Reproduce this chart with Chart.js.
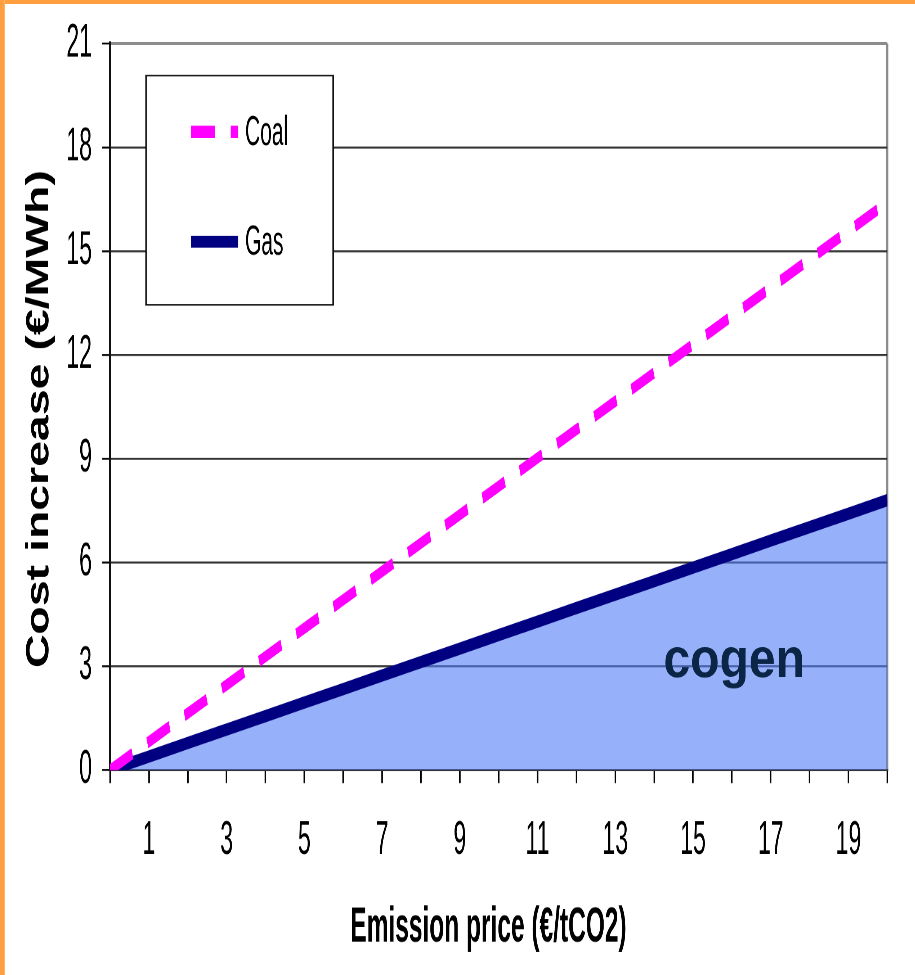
<!DOCTYPE html>
<html>
<head>
<meta charset="utf-8">
<script src="https://cdn.jsdelivr.net/npm/chart.js@4.4.1/dist/chart.umd.min.js"></script>
<style>
  html, body { margin: 0; padding: 0; background: #ffffff; }
  body { width: 915px; height: 975px; position: relative; overflow: hidden; }
  #wrap { position: absolute; left: 0; top: 0; width: 1270.83px; height: 672px;
          transform: scale(0.72, 1.4509); transform-origin: 0 0; }
  #topbar { position: absolute; left: 0; top: 0; width: 915px; height: 4px; background: #FF9F3F; }
  #leftbar { position: absolute; left: 0; top: 0; width: 5px; height: 975px;
             background: linear-gradient(to right, #FF9F3F 0, #FF9F3F 4px, #FFC98F 5px); }
</style>
</head>
<body>
<div id="wrap"><canvas id="c"></canvas></div>
<div id="topbar"></div>
<div id="leftbar"></div>
<script>
// ---- data ----
const emissionPrice = [0, 1, 2, 3, 4, 5, 6, 7, 8, 9, 10, 11, 12, 13, 14, 15, 16, 17, 18, 19, 20];
const coalCost = [0, 0.82, 1.64, 2.46, 3.28, 4.10, 4.92, 5.74, 6.56, 7.38, 8.20, 9.02, 9.84, 10.66, 11.48, 12.30, 13.12, 13.94, 14.76, 15.58, 16.40];
const gasCost  = [0, 0.39, 0.78, 1.17, 1.56, 1.95, 2.34, 2.73, 3.12, 3.51, 3.90, 4.29, 4.68, 5.07, 5.46, 5.85, 6.24, 6.63, 7.02, 7.41, 7.80];
const xTickLabels = [1, 3, 5, 7, 9, 11, 13, 15, 17, 19];
const yTickValues = [0, 3, 6, 9, 12, 15, 18, 21];
const seriesNames = ['Coal', 'Gas'];
const xTitle = 'Emission price (€/tCO2)';
const yTitle = 'Cost increase (€/MWh)';
const areaLabel = 'cogen';
const areaLabelPos = { x: 16.06, y: 2.69 };

const ARIAL = "'Liberation Sans', Arial, sans-serif";
const SX = 0.72;      // horizontal squeeze of the page canvas
const SY = 1.4509;    // vertical stretch of the page canvas

const coalPts = emissionPrice.map((x, i) => ({ x: x, y: coalCost[i] }));
const gasPts = emissionPrice.map((x, i) => ({ x: x, y: gasCost[i] }));

// legend box drawn inside the plot, as in the reference
const boxLegend = {
  id: 'boxLegend',
  afterDatasetsDraw(chart) {
    const ctx = chart.ctx;
    const a = chart.chartArea;
    const bx = a.left + 50, by = a.top + 22.1, bw = 259.7, bh = 158;
    ctx.save();
    ctx.fillStyle = '#ffffff';
    ctx.fillRect(bx, by, bw, bh);
    ctx.fillStyle = '#111111';
    ctx.fillRect(bx - 1, by - 0.55, bw + 2, 1.1);
    ctx.fillRect(bx - 1, by + bh - 0.55, bw + 2, 1.1);
    ctx.fillRect(bx - 1, by, 2.1, bh);
    ctx.fillRect(bx + bw - 1, by, 2.1, bh);
    const rows = [by + 38.7, by + 114.5];
    chart.data.datasets.forEach((ds, i) => {
      const y = rows[i];
      ctx.save();
      ctx.strokeStyle = ds.borderColor;
      ctx.lineWidth = 8.3;
      ctx.lineCap = 'butt';
      ctx.setLineDash(ds.borderDash || []);
      ctx.beginPath();
      ctx.moveTo(bx + 62.5, y);
      ctx.lineTo(bx + 127.8, y);
      ctx.stroke();
      ctx.restore();
      ctx.fillStyle = '#000000';
      ctx.font = '29px ' + ARIAL;
      ctx.textAlign = 'left';
      ctx.textBaseline = 'middle';
      ctx.fillText(ds.label, bx + 137.5, y + 1);
    });
    ctx.restore();
  }
};

// area label placed by data coordinates
const areaText = {
  id: 'areaText',
  afterDatasetsDraw(chart) {
    const ctx = chart.ctx;
    const x = chart.scales.x.getPixelForValue(areaLabelPos.x);
    const y = chart.scales.y.getPixelForValue(areaLabelPos.y);
    ctx.save();
    ctx.translate(x, y);
    ctx.scale(1 / SX, 0.8);
    ctx.fillStyle = '#0B2546';
    ctx.font = 'bold 48px ' + ARIAL;
    ctx.textAlign = 'center';
    ctx.textBaseline = 'alphabetic';
    ctx.fillText(areaLabel, 0, 0);
    ctx.restore();
  }
};

// vertical axis title (wide bold face, not squeezed)
const yAxisTitle = {
  id: 'yAxisTitle',
  afterDraw(chart) {
    const ctx = chart.ctx;
    const a = chart.chartArea;
    const cx = 39.5 / SX;
    const cy = (a.top + a.bottom) / 2 + 8.5;
    ctx.save();
    ctx.translate(cx, cy);
    ctx.scale(1 / SX, 1);
    ctx.rotate(-Math.PI / 2);
    ctx.fillStyle = '#000000';
    ctx.font = 'bold 32px ' + ARIAL;
    ctx.textAlign = 'center';
    ctx.textBaseline = 'middle';
    ctx.fillText(yTitle, 0, 0);
    ctx.restore();
  }
};

new Chart(document.getElementById('c'), {
  type: 'line',
  data: {
    datasets: [
      {
        label: seriesNames[0],
        data: coalPts,
        borderColor: '#FF00FF',
        borderWidth: 7.8,
        borderDash: [33, 22],
        borderCapStyle: 'butt',
        pointRadius: 0,
        fill: false,
        tension: 0
      },
      {
        label: seriesNames[1],
        data: gasPts,
        borderColor: '#000080',
        borderWidth: 8.5,
        borderCapStyle: 'butt',
        backgroundColor: 'rgba(82,123,247,0.6)',
        pointRadius: 0,
        fill: 'origin',
        tension: 0
      }
    ]
  },
  options: {
    responsive: true,
    maintainAspectRatio: false,
    devicePixelRatio: 2,
    animation: false,
    layout: { padding: { top: 28.9, right: 38.9, bottom: 0, left: 0 } },
    plugins: {
      legend: { display: false },
      tooltip: { enabled: false }
    },
    scales: {
      x: {
        type: 'linear',
        min: 0,
        max: 20,
        afterFit(scale) { scale.height = 141.3; },
        ticks: {
          stepSize: 1,
          autoSkip: false,
          maxRotation: 0,
          padding: 21,
          color: '#000000',
          font: { family: ARIAL, size: 32 },
          callback: (v) => xTickLabels.includes(v) ? String(v) : ''
        },
        grid: {
          drawOnChartArea: true,
          color: (c) => (c.tick && c.tick.value === 20) ? '#8C8C8C' : 'rgba(0,0,0,0)',
          lineWidth: 2.8,
          tickColor: '#000000',
          tickLength: 9,
          tickWidth: 2.1
        },
        border: { display: true, color: '#333333', width: 1.5 },
        title: {
          display: true,
          text: xTitle + '   ',
          color: '#000000',
          font: { family: ARIAL, size: 34, weight: 'bold' },
          padding: { top: 0, bottom: 12 }
        }
      },
      y: {
        min: 0,
        max: 21,
        afterFit(scale) { scale.width = 110 / SX; },
        afterBuildTicks(scale) { scale.ticks = yTickValues.map(v => ({ value: v })); },
        ticks: {
          padding: 14,
          color: '#000000',
          font: { family: ARIAL, size: 32, lineHeight: 1 }
        },
        grid: {
          color: (c) => (c.tick && c.tick.value === 21) ? '#8C8C8C' : '#333333',
          lineWidth: (c) => (c.tick && c.tick.value === 21) ? 2 : 1.4,
          tickColor: '#000000',
          tickLength: 11.1,
          tickWidth: 1.3
        },
        border: { display: true, color: '#111111', width: 2.8 },
        title: { display: false }
      }
    }
  },
  plugins: [boxLegend, areaText, yAxisTitle]
});
</script>
</body>
</html>
